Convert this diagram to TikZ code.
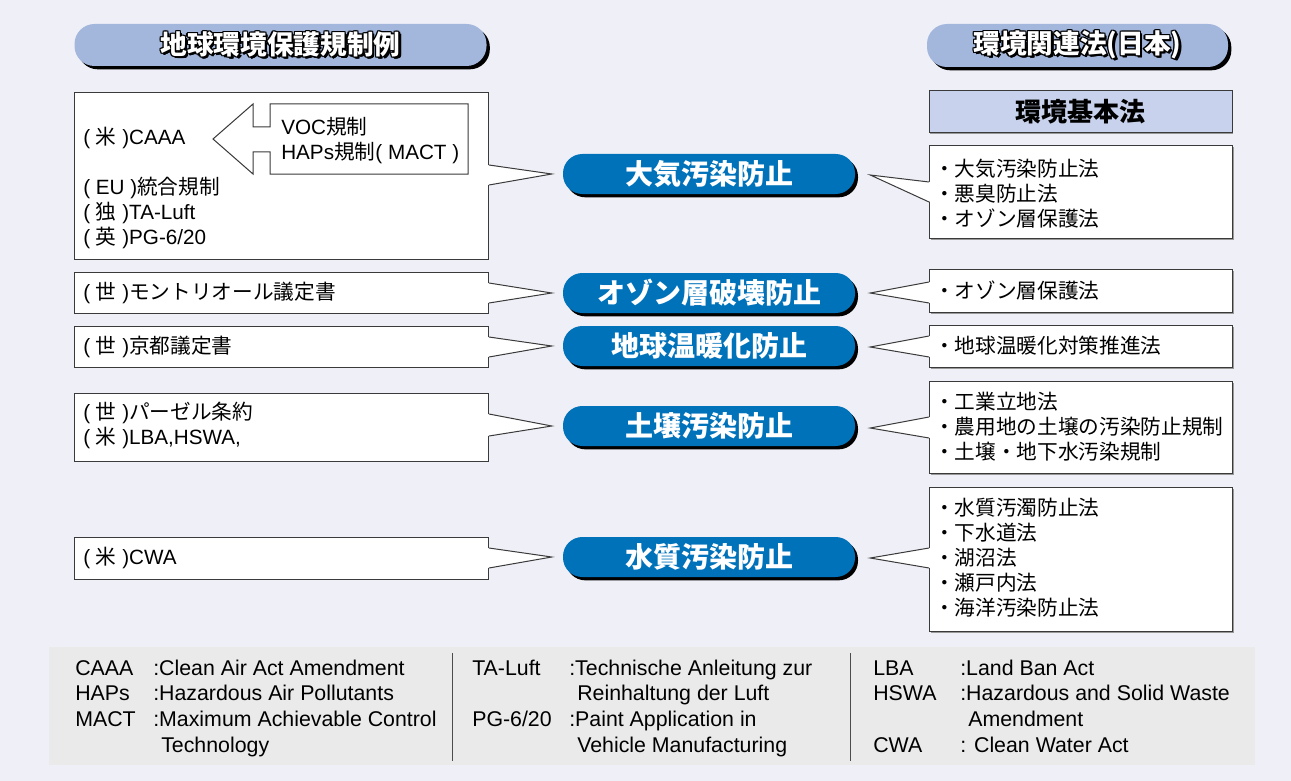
\documentclass[tikz,border=0pt]{standalone}
\usepackage{fontspec}
\setmainfont{Liberation Sans}
\newfontfamily\jp{Noto Sans CJK JP}
\newfontfamily\jpbig{Noto Sans CJK JP}
\usetikzlibrary{shadows,calc}
\definecolor{bg}{HTML}{EFEFF7}
\definecolor{legbg}{HTML}{EAEAEA}
\definecolor{hdr}{HTML}{A3B7DD}
\definecolor{pillblue}{HTML}{0072BA}
\definecolor{kihon}{HTML}{C8D2EC}
\definecolor{edge}{HTML}{3A3A3A}
\newcommand\J[1]{{\jp #1}}
\newcommand\bodyfont{\fontsize{15.5pt}{18.75pt}\selectfont}
\newcommand\legfont{\fontsize{16pt}{19pt}\selectfont}
\newcommand\pillfont{\fontsize{21pt}{24pt}\jpbig\bfseries}
\newcommand\hdrfont{\fontsize{20pt}{24pt}\jpbig\bfseries}
\newcommand\olt[1]{{\setbox0=\hbox{#1}%
 \def\oo##1##2{\rlap{\kern##1\raise##2\hbox{\color{black}\copy0}}}%
 \oo{-0.9pt}{0pt}\oo{0.9pt}{0pt}\oo{0pt}{0.9pt}\oo{0pt}{-0.9pt}%
 \oo{-0.65pt}{0.65pt}\oo{0.65pt}{0.65pt}\oo{-0.65pt}{-0.65pt}\oo{0.65pt}{-0.65pt}%
 \oo{1.5pt}{-1.5pt}\oo{1.8pt}{-1.2pt}\oo{1.2pt}{-1.8pt}%
 \hbox{\color{white}\copy0}}}
\newcommand\pointer[6]{%
 \fill[white] ($(#1.#2)+(#6,#3)$) -- (#5) -- ($(#1.#2)+(#6,#4)$) -- cycle;
 \draw[ptr] ($(#1.#2)+(0,#3)$) -- (#5) -- ($(#1.#2)+(0,#4)$);}
\tikzset{
 box/.style={draw=edge, fill=white, line width=0.75pt, anchor=north west, inner sep=0pt, minimum width=310.5pt},
 rbox/.style={box, minimum width=227.25pt, general shadow={fill=black!40, shadow xshift=0.9pt, shadow yshift=-0.9pt}},
 pill/.style={fill=pillblue, rounded corners=14.5pt, minimum width=219pt, minimum height=30pt, text=white, font=\pillfont, inner sep=0pt,
   general shadow={fill=black, shadow xshift=2.25pt, shadow yshift=-2.5pt}},
 hdrpill/.style={fill=hdr, rounded corners=15pt, inner sep=0pt, font=\hdrfont,
   general shadow={fill=black, shadow xshift=2.5pt, shadow yshift=-2.5pt}},
 kihonbox/.style={fill=kihon, draw=edge, line width=0.75pt, inner sep=0pt, font=\fontsize{19.5pt}{22pt}\jpbig\bfseries,
   general shadow={fill=black!40, shadow xshift=0.9pt, shadow yshift=-0.9pt}},
 txt/.style={anchor=west, align=left, inner sep=0pt, font=\bodyfont},
 jtxt/.style={txt, font=\bodyfont\jp},
 leg/.style={anchor=base west, inner sep=0pt, font=\legfont},
 ptr/.style={draw=edge, line width=0.75pt},
}
\begin{document}
\begin{tikzpicture}[x=0.75pt,y=-0.75pt]
\fill[bg] (0,0) rectangle (1291,781);
\useasboundingbox (0,0) rectangle (1291,781);

% headers
\node[hdrpill, minimum width=309pt, minimum height=31.5pt] (H1) at (280.5,45) {\olt{地球環境保護規制例}};
\node[hdrpill, minimum width=225.75pt, minimum height=32.25pt] (H2) at (1077.5,45.5) {\olt{環境関連法(日本)}};
\node[kihonbox, minimum width=227.25pt, minimum height=31.5pt] (K) at (1080.5,112) {環境基本法};

% left boxes
\node[box, minimum height=125.25pt] (L1) at (74,92) {};
\node[box, minimum height=30.75pt] (L2) at (74,272) {};
\node[box, minimum height=30.75pt] (L3) at (74,326) {};
\node[box, minimum height=51pt] (L4) at (74,393) {};
\node[box, minimum height=31.5pt] (L5) at (74,537) {};

% right boxes
\node[rbox, minimum height=69.75pt] (R1) at (929,145) {};
\node[rbox, minimum height=32.25pt] (R2) at (929,269) {};
\node[rbox, minimum height=31.5pt] (R3) at (929,325) {};
\node[rbox, minimum height=69pt] (R4) at (929,381) {};
\node[rbox, minimum height=108pt] (R5) at (929,487) {};

% central pills
\node[pill] (P1) at (709,174) {大気汚染防止};
\node[pill] (P2) at (709,293) {オゾン層破壊防止};
\node[pill] (P3) at (709,346) {地球温暖化防止};
\node[pill] (P4) at (709,426) {土壌汚染防止};
\node[pill] (P5) at (709,557) {水質汚染防止};

% pointers
\pointer{L1}{north east}{73}{93}{$(P1.west)+(-11,0)$}{-1.5}
\pointer{L2}{north east}{11}{31}{$(P2.west)+(-11,0)$}{-1.5}
\pointer{L3}{north east}{11}{31}{$(P3.west)+(-11,0)$}{-1.5}
\pointer{L4}{north east}{21}{43}{$(P4.west)+(-11,0)$}{-1.5}
\pointer{L5}{north east}{11}{31}{$(P5.west)+(-11,0)$}{-1.5}
\pointer{R1}{north west}{37}{57}{$(P1.east)+(15,1)$}{1.5}
\pointer{R2}{north west}{13}{34}{$(P2.east)+(15,0)$}{1.5}
\pointer{R3}{north west}{11}{32}{$(P3.east)+(15,1)$}{1.5}
\pointer{R4}{north west}{36}{57}{$(P4.east)+(15,2)$}{1.5}
\pointer{R5}{north west}{61}{81}{$(P5.east)+(15,1)$}{1.5}

% inner arrow box in L1
\path[draw=edge, fill=white, line width=0.75pt] (213,139) -- (253,104) -- (253,127) -- (270,127) -- (270,104) -- (468,104) -- (468,174) -- (270,174) -- (270,152) -- (253,152) -- (253,174) -- cycle;
\node[txt] (V) at (281,140.5) {VOC\J{規制}\\HAPs\J{規制}( MACT )};

% left texts
\node[txt] (L1t) at (83,187.5) {( \J{米} )CAAA\\[18.75pt]( EU )\J{統合規制}\\( \J{独} )TA-Luft\\( \J{英} )PG-6/20};
\node[txt] (L2t) at (83,293) {( \J{世} )\J{モントリオール議定書}};
\node[txt] (L3t) at (83,346.5) {( \J{世} )\J{京都議定書}};
\node[txt] (L4t) at (83,425) {( \J{世} )\J{パーゼル条約}\\( \J{米} )LBA,HSWA,};
\node[txt] (L5t) at (83,558) {( \J{米} )CWA};

% right texts
\node[jtxt] (R1t) at (934,194) {・大気汚染防止法\\・悪臭防止法\\・オゾン層保護法};
\node[jtxt] (R2t) at (934,291) {・オゾン層保護法};
\node[jtxt] (R3t) at (934,346) {・地球温暖化対策推進法};
\node[jtxt] (R4t) at (934,427) {・工業立地法\\・農用地の土壌の汚染防止規制\\・土壌・地下水汚染規制};
\node[jtxt] (R5t) at (934,558) {・水質汚濁防止法\\・下水道法\\・湖沼法\\・瀬戸内法\\・海洋汚染防止法};

% legend
\node[fill=legbg, anchor=north west, inner sep=0pt, minimum width=904.5pt, minimum height=88.5pt] (LG) at (49,647) {};
\draw[gray!60!black, line width=0.6pt] (452,653) -- (452,761);
\draw[gray!60!black, line width=0.6pt] (850,653) -- (850,761);
\node[leg] (a1) at (75,675.5) {CAAA};
\node[leg] (b1) at (153,675.5) {:Clean Air Act Amendment};
\node[leg] (a2) at (75,700.5) {HAPs};
\node[leg] (b2) at (153,700.5) {:Hazardous Air Pollutants};
\node[leg] (a3) at (75,726.5) {MACT};
\node[leg] (b3) at (153,726.5) {:Maximum Achievable Control};
\node[leg] (b4) at (161,752.5) {Technology};
\node[leg] (c1) at (472,675.5) {TA-Luft};
\node[leg] (d1) at (569,675.5) {:Technische Anleitung zur};
\node[leg] (d2) at (577,700.5) {Reinhaltung der Luft};
\node[leg] (c3) at (472,726.5) {PG-6/20};
\node[leg] (d3) at (569,726.5) {:Paint Application in};
\node[leg] (d4) at (577,752.5) {Vehicle Manufacturing};
\node[leg] (e1) at (873,675.5) {LBA};
\node[leg] (f1) at (960,675.5) {:Land Ban Act};
\node[leg] (e2) at (873,700.5) {HSWA};
\node[leg] (f2) at (960,700.5) {:Hazardous and Solid Waste};
\node[leg] (f3) at (968,726.5) {Amendment};
\node[leg] (e4) at (873,752.5) {CWA};
\node[leg] (f4) at (960,752.5) {: Clean Water Act};
\end{tikzpicture}
\end{document}
